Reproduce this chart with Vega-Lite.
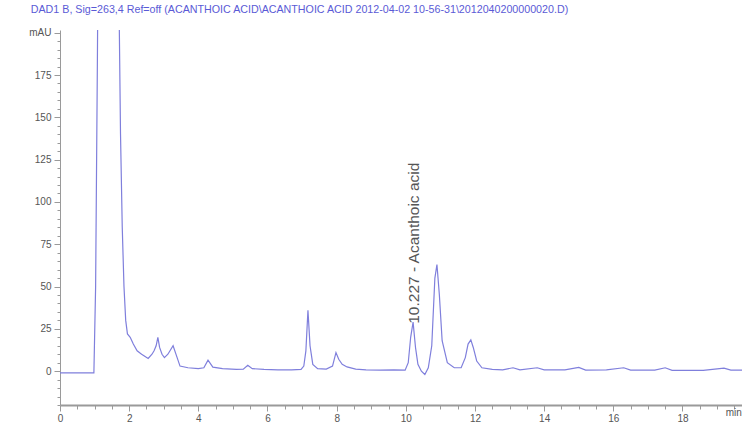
{
  "$schema": "https://vega.github.io/schema/vega-lite/v6.json",
  "autosize": {"type": "none"},
  "width": 683,
  "height": 375,
  "padding": {"left": 60, "top": 30, "right": 0, "bottom": 28},
  "background": "white",
  "title": {
    "text": "DAD1 B, Sig=263,4 Ref=off (ACANTHOIC ACID\\ACANTHOIC ACID 2012-04-02 10-56-31\\2012040200000020.D)",
    "anchor": "start",
    "fontSize": 10.7,
    "fontWeight": "normal",
    "font": "Liberation Sans",
    "color": "#5a5ad6",
    "offset": 12,
    "dx": 2
  },
  "config": {
    "view": {"stroke": null},
    "axis": {"grid": false, "labelFont": "Liberation Sans", "labelFontSize": 10, "labelColor": "#555555", "domainColor": "#9a9a9a", "tickColor": "#9a9a9a", "title": null, "tickCount": 500}
  },
  "layer": [
    {
      "data": {
        "values": [
          {"t": 0, "v": -1}, {"t": 0.5, "v": -1}, {"t": 0.98, "v": -1}, {"t": 1.03, "v": 50}, {"t": 1.08, "v": 180}, {"t": 1.13, "v": 330},
          {"t": 1.35, "v": 900}, {"t": 1.55, "v": 700}, {"t": 1.65, "v": 330}, {"t": 1.7, "v": 230}, {"t": 1.75, "v": 140}, {"t": 1.8, "v": 85},
          {"t": 1.85, "v": 50}, {"t": 1.9, "v": 30}, {"t": 1.95, "v": 22}, {"t": 2.03, "v": 20}, {"t": 2.12, "v": 16}, {"t": 2.23, "v": 12},
          {"t": 2.36, "v": 10}, {"t": 2.55, "v": 7.5}, {"t": 2.66, "v": 10}, {"t": 2.72, "v": 12}, {"t": 2.78, "v": 15}, {"t": 2.83, "v": 20},
          {"t": 2.88, "v": 14}, {"t": 2.95, "v": 10}, {"t": 3.02, "v": 8}, {"t": 3.12, "v": 10}, {"t": 3.27, "v": 15}, {"t": 3.37, "v": 9},
          {"t": 3.47, "v": 3}, {"t": 3.7, "v": 2}, {"t": 4.0, "v": 1.5}, {"t": 4.16, "v": 2}, {"t": 4.28, "v": 6.5}, {"t": 4.42, "v": 2.4},
          {"t": 4.7, "v": 1.5}, {"t": 5.1, "v": 1}, {"t": 5.3, "v": 1.2}, {"t": 5.43, "v": 3.5}, {"t": 5.56, "v": 1.5}, {"t": 5.9, "v": 1},
          {"t": 6.3, "v": 0.8}, {"t": 6.7, "v": 0.8}, {"t": 6.97, "v": 1}, {"t": 7.05, "v": 3}, {"t": 7.11, "v": 12}, {"t": 7.17, "v": 36},
          {"t": 7.23, "v": 15}, {"t": 7.31, "v": 4}, {"t": 7.45, "v": 1.5}, {"t": 7.7, "v": 1.2}, {"t": 7.88, "v": 3}, {"t": 7.98, "v": 11},
          {"t": 8.06, "v": 7}, {"t": 8.16, "v": 4}, {"t": 8.3, "v": 2.5}, {"t": 8.55, "v": 1.2}, {"t": 8.85, "v": 0.8}, {"t": 9.25, "v": 0.6},
          {"t": 9.65, "v": 0.8}, {"t": 9.98, "v": 0.6}, {"t": 10.07, "v": 5}, {"t": 10.14, "v": 20}, {"t": 10.21, "v": 29}, {"t": 10.28, "v": 14},
          {"t": 10.35, "v": 4}, {"t": 10.45, "v": 0}, {"t": 10.55, "v": -2}, {"t": 10.65, "v": 2}, {"t": 10.75, "v": 15}, {"t": 10.84, "v": 55},
          {"t": 10.9, "v": 63}, {"t": 10.97, "v": 45}, {"t": 11.05, "v": 18}, {"t": 11.2, "v": 5}, {"t": 11.4, "v": 2}, {"t": 11.6, "v": 2},
          {"t": 11.72, "v": 8}, {"t": 11.8, "v": 16}, {"t": 11.88, "v": 18.5}, {"t": 11.95, "v": 14}, {"t": 12.05, "v": 6}, {"t": 12.2, "v": 2},
          {"t": 12.5, "v": 1}, {"t": 12.8, "v": 0.8}, {"t": 13.1, "v": 2}, {"t": 13.3, "v": 0.8}, {"t": 13.8, "v": 2}, {"t": 14.0, "v": 0.8},
          {"t": 14.6, "v": 0.8}, {"t": 15.0, "v": 2.2}, {"t": 15.2, "v": 0.6}, {"t": 15.8, "v": 0.8}, {"t": 16.3, "v": 2}, {"t": 16.5, "v": 0.6},
          {"t": 17.2, "v": 0.6}, {"t": 17.5, "v": 2}, {"t": 17.7, "v": 0.5}, {"t": 18.6, "v": 0.5}, {"t": 19.2, "v": 1.8}, {"t": 19.4, "v": 0.6},
          {"t": 19.75, "v": 0.6}
        ]
      },
      "mark": {"type": "line", "color": "#7f7fdc", "strokeWidth": 1.2, "clip": true},
      "encoding": {
        "x": {
          "field": "t", "type": "quantitative",
          "scale": {"domain": [0, 19.75], "nice": false, "zero": false},
          "axis": {
            "values": [0,0.5,1,1.5,2,2.5,3,3.5,4,4.5,5,5.5,6,6.5,7,7.5,8,8.5,9,9.5,10,10.5,11,11.5,12,12.5,13,13.5,14,14.5,15,15.5,16,16.5,17,17.5,18,18.5,19,19.5,19.7],
            "tickCount": 500,
            "labelExpr": "datum.value == 19.7 ? 'min' : (datum.value % 2 == 0 ? format(datum.value, 'd') : '')",
            "labelAlign": {"condition": {"test": "datum.value == 19.7", "value": "right"}, "value": "center"},
            "labelOverlap": false,
            "labelFlush": false,
            "domainWidth": 2,
            "tickSize": {"condition": [{"test": "datum.value == 19.7", "value": 0}, {"test": "datum.value % 2 == 0", "value": 6}], "value": 4},
            "labelPadding": 2
          }
        },
        "y": {
          "field": "v", "type": "quantitative",
          "scale": {"domain": [-20, 201.6], "nice": false, "zero": false},
          "axis": {
            "values": [-20,-15,-10,-5,0,5,10,15,20,25,30,35,40,45,50,55,60,65,70,75,80,85,90,95,100,105,110,115,120,125,130,135,140,145,150,155,160,165,170,175,180,185,190,195,200],
            "tickCount": 500,
            "labelExpr": "datum.value == 200 ? 'mAU' : ((datum.value >= 0 && datum.value % 25 == 0) ? format(datum.value, 'd') : '')",
            "labelOverlap": false,
            "labelFlush": false,
            "tickSize": {"condition": {"test": "datum.value % 25 == 0", "value": 6}, "value": 3},
            "labelPadding": 3
          }
        }
      }
    },
    {
      "data": {"values": [{"t": 10.227, "v": 28, "label": "10.227 -  Acanthoic acid"}]},
      "mark": {"type": "text", "angle": 270, "align": "left", "baseline": "middle", "fontSize": 15.5, "font": "Liberation Sans", "color": "#555555"},
      "encoding": {
        "x": {"field": "t", "type": "quantitative"},
        "y": {"field": "v", "type": "quantitative"},
        "text": {"field": "label"}
      }
    }
  ]
}
